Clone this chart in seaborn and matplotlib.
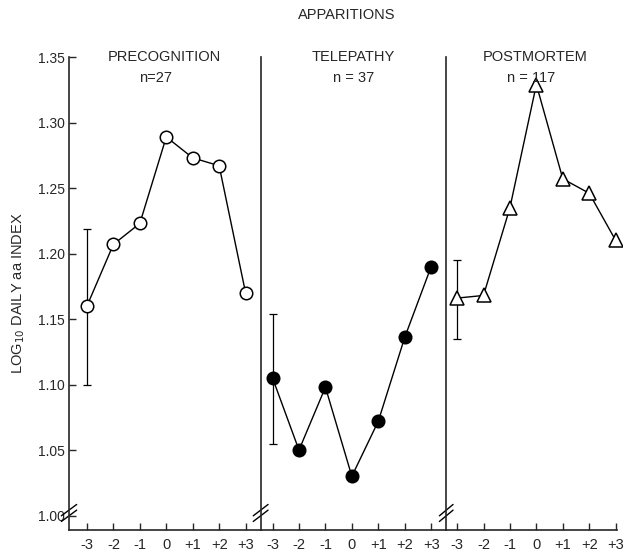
import matplotlib
matplotlib.use("Agg")
import matplotlib.pyplot as plt
import seaborn as sns
import pandas as pd

sns.set_style("ticks")
plt.rcParams['font.family'] = ['Liberation Sans', 'DejaVu Sans']

days = [-3, -2, -1, 0, 1, 2, 3]
day_labels = ["-3", "-2", "-1", "0", "+1", "+2", "+3"]

precog = [1.160, 1.207, 1.223, 1.289, 1.273, 1.267, 1.170]
telepathy = [1.105, 1.050, 1.098, 1.030, 1.072, 1.136, 1.190]
postmortem = [1.166, 1.168, 1.235, 1.329, 1.257, 1.246, 1.210]

# error bars at day -3 (low, high)
precog_err = (1.100, 1.219)
telepathy_err = (1.055, 1.154)
postmortem_err = (1.135, 1.195)

titles = ["PRECOGNITION", "TELEPATHY", "POSTMORTEM"]
ns = ["n=27", "n = 37", "n = 117"]
series = [precog, telepathy, postmortem]
errs = [precog_err, telepathy_err, postmortem_err]
mstyles = [dict(marker="o", mfc="white"), dict(marker="o", mfc="black"),
           dict(marker="^", mfc="white")]

xlims = [(-3.68, 3.57), (-3.45, 3.57), (-3.41, 3.05)]
widths = [b - a for a, b in xlims]

fig = plt.figure(figsize=(6.23, 5.53), dpi=100)
gs = fig.add_gridspec(1, 3, width_ratios=widths, wspace=0,
                      left=69/623, right=617/623, top=1-57/553, bottom=1-530/553)
axes = [fig.add_subplot(gs[0, i]) for i in range(3)]

yticks = [1.00, 1.05, 1.10, 1.15, 1.20, 1.25, 1.30, 1.35]

for i, ax in enumerate(axes):
    df = pd.DataFrame({"day": days, "val": series[i]})
    sns.lineplot(data=df, x="day", y="val", ax=ax, color="black", lw=1.0,
                 marker=mstyles[i]["marker"], markersize=9 if mstyles[i]["marker"] == "o" else 10,
                 markerfacecolor=mstyles[i]["mfc"], markeredgecolor="black",
                 markeredgewidth=1.1, zorder=3, clip_on=False)
    lo, hi = errs[i]
    mid = series[i][0]
    ax.errorbar([days[0]], [mid], yerr=[[mid - lo], [hi - mid]], fmt="none",
                ecolor="black", elinewidth=0.9, capsize=3, capthick=0.9, zorder=2)
    ax.set_xlim(*xlims[i])
    ax.set_ylim(0.989, 1.35)
    ax.set_xticks(days)
    ax.set_xticklabels(day_labels, fontsize=10.5)
    ax.set_xlabel("")
    ax.set_ylabel("")
    ax.spines["top"].set_visible(False)
    ax.spines["right"].set_visible(False)
    ax.spines["left"].set_linewidth(1.2)
    ax.spines["bottom"].set_linewidth(1.2)
    ax.tick_params(axis="x", direction="in", length=5, width=1, pad=6)
    if i == 0:
        ax.set_yticks(yticks)
        ax.set_yticklabels([f"{v:.2f}" for v in yticks], fontsize=10)
        ax.tick_params(axis="y", direction="in", length=5, width=1, pad=3)
    else:
        ax.set_yticks([])
    ax.text(0.5 if i != 2 else 0.52, 1.0, titles[i], transform=ax.transAxes, ha="center",
            va="center", fontsize=10.5)
    ax.text(0.45 if i == 0 else 0.5, 0.955, ns[i], transform=ax.transAxes, ha="center",
            va="center", fontsize=10.5)
    # axis break marks
    for dy in (0.0, 0.012):
        ax.plot([-0.04, 0.04], [0.018 + dy, 0.042 + dy], transform=ax.transAxes,
                color="black", lw=1.0, clip_on=False)

axes[0].set_ylabel(r"LOG$_{10}$ DAILY aa INDEX", fontsize=10.5, labelpad=8)
fig.text(347/623, 1-15/553, "APPARITIONS", ha="center", va="center", fontsize=10.5)

fig.savefig("out.png", dpi=100, facecolor="white")
